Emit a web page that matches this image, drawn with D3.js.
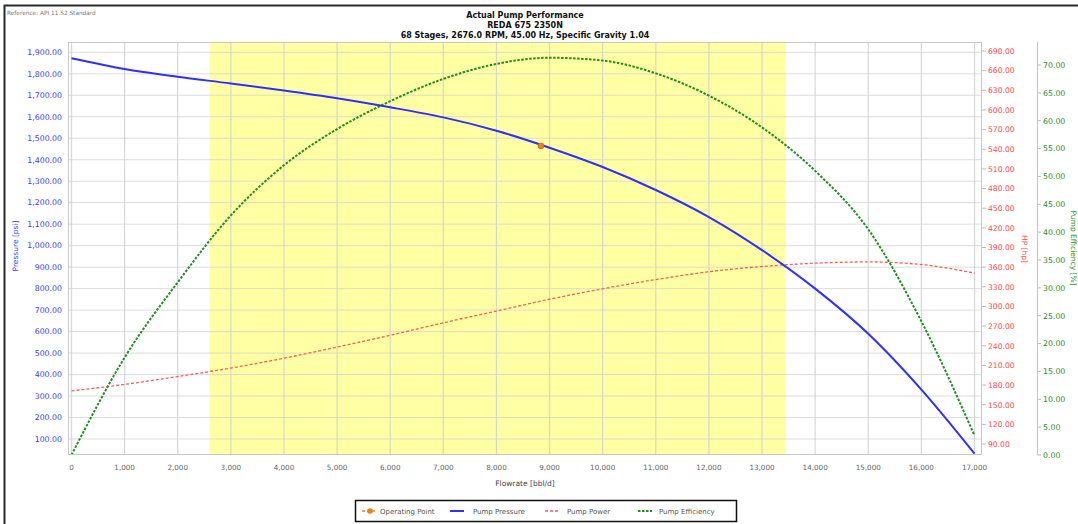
<!DOCTYPE html>
<html><head><meta charset="utf-8">
<script src="https://cdn.jsdelivr.net/npm/d3@7"></script>
<style>
html,body{margin:0;padding:0;background:#fff;}
svg{display:block;font-family:"DejaVu Sans",sans-serif;}
</style></head>
<body>
<svg id="c" width="1078" height="524"></svg>
<script>
// ---- data ----
const flowrate   = [0,1000,2000,3000,4000,5000,6000,7000,8000,9000,10000,11000,12000,13000,14000,15000,16000,17000];
const pressure   = [1872,1822,1786,1755,1722,1686,1644,1597,1535,1456,1366,1259,1133,979,800,590,330,32];
const power      = [171,181,193,206,221,238,256,275,293,311,327,341,353,361,366,368,364,351];
const efficiency = [0,17.5,31,43,52,58.5,63.5,67.5,70.2,71.3,70.8,68.5,64.5,58.8,51,40.5,24,3.5];
const operatingPoint = {flow: 8838, pressure: 1464};
const recommendedRange = [2600, 13450];
const xTicks = d3.range(0, 17001, 1000);
const pressureTicks = d3.range(100, 1901, 100);
const powerTicks = d3.range(90, 691, 30);
const effTicks = d3.range(0, 71, 5);
const titleLines = ["Actual Pump Performance", "REDA 675 2350N", "68 Stages, 2676.0 RPM, 45.00 Hz, Specific Gravity 1.04"];
const legendItems = ["Operating Point", "Pump Pressure", "Pump Power", "Pump Efficiency"];

// ---- layout ----
const svg = d3.select("#c");
const frame = {l: 68, r: 982, t: 42, b: 455};
const x  = d3.scaleLinear().domain([0, 17000]).range([71.5, 974.5]);
const yP = d3.scaleLinear().domain([100, 1900]).range([439, 52.3]);
const yH = d3.scaleLinear().domain([90, 690]).range([444, 51]);
const yE = d3.scaleLinear().domain([0, 70]).range([455, 65]);

const blue = "#3a3aff", red = "#ff4a4a", green = "#1f8f1f";

// outer border
svg.append("path").attr("d", "M4.5,530 L4.5,5.5 L1090,5.5")
  .attr("fill", "none").attr("stroke", "#2a2a2a").attr("stroke-width", 2);

svg.append("text").attr("x", 7).attr("y", 14.5).attr("font-size", 5.8).attr("fill", "#7a7a7a")
  .text("Reference: API 11.S2 Standard");

// titles
svg.selectAll("text.title").data(titleLines).enter().append("text")
  .attr("class", "title").attr("x", 525).attr("y", (d, i) => 18 + i * 10)
  .attr("text-anchor", "middle").attr("font-size", 8).attr("font-weight", "bold").attr("fill", "#111")
  .text(d => d);

// clip
svg.append("clipPath").attr("id", "plotclip").append("rect")
  .attr("x", frame.l).attr("y", frame.t).attr("width", frame.r - frame.l).attr("height", frame.b - frame.t);

const plot = svg.append("g").attr("clip-path", "url(#plotclip)");

// recommended range band
plot.append("rect")
  .attr("x", x(recommendedRange[0])).attr("y", frame.t)
  .attr("width", x(recommendedRange[1]) - x(recommendedRange[0]))
  .attr("height", frame.b - frame.t).attr("fill", "#ffffa4");

// grid
plot.selectAll("line.hg").data(pressureTicks).enter().append("line")
  .attr("x1", frame.l).attr("x2", frame.r).attr("y1", d => yP(d)).attr("y2", d => yP(d))
  .attr("stroke", "#d4d4d4").attr("stroke-opacity", 0.8).attr("stroke-width", 1);
plot.selectAll("line.vg").data(xTicks).enter().append("line")
  .attr("y1", frame.t).attr("y2", frame.b).attr("x1", d => x(d)).attr("x2", d => x(d))
  .attr("stroke", "#d0d0d0").attr("stroke-opacity", 0.85).attr("stroke-width", 1.2);

// frame
svg.append("rect").attr("x", frame.l + 0.5).attr("y", frame.t + 0.5)
  .attr("width", frame.r - frame.l - 1).attr("height", frame.b - frame.t - 1)
  .attr("fill", "none").attr("stroke", "#c8c8c8").attr("stroke-width", 1);

// curves
const pts = (ys) => flowrate.map((f, i) => [f, ys[i]]);
const curve = d3.curveMonotoneX;
plot.append("path").datum(pts(power))
  .attr("d", d3.line().x(d => x(d[0])).y(d => yH(d[1])).curve(curve))
  .attr("fill", "none").attr("stroke", "#ff5a5a").attr("stroke-width", 1.3).attr("stroke-dasharray", "3,2");
plot.append("path").datum(pts(efficiency))
  .attr("d", d3.line().x(d => x(d[0])).y(d => yE(d[1])).curve(curve))
  .attr("fill", "none").attr("stroke", green).attr("stroke-width", 2).attr("stroke-dasharray", "2.5,1.5");
plot.append("path").datum(pts(pressure))
  .attr("d", d3.line().x(d => x(d[0])).y(d => yP(d[1])).curve(curve))
  .attr("fill", "none").attr("stroke", "#2f2fff").attr("stroke-width", 2);

// operating point
svg.append("circle").attr("cx", x(operatingPoint.flow)).attr("cy", yP(operatingPoint.pressure))
  .attr("r", 3).attr("fill", "#e8801e").attr("stroke", "#c86010").attr("stroke-width", 0.6);

// left axis labels
svg.selectAll("text.yl").data(pressureTicks).enter().append("text")
  .attr("x", 62).attr("y", d => yP(d) + 2.8).attr("text-anchor", "end")
  .attr("font-size", 7.8).attr("fill", blue).text(d => d3.format(",.2f")(d));
svg.append("text").attr("transform", "translate(18,246) rotate(-90)")
  .attr("text-anchor", "middle").attr("font-size", 7.5).attr("fill", blue).text("Pressure [psi]");

// bottom axis
svg.selectAll("text.xl").data(xTicks).enter().append("text")
  .attr("x", d => x(d)).attr("y", 469.5).attr("text-anchor", "middle")
  .attr("font-size", 7.2).attr("fill", "#666").text(d => d3.format(",")(d));
svg.append("text").attr("x", 525).attr("y", 485.5).attr("text-anchor", "middle")
  .attr("font-size", 7.5).attr("fill", "#444").text("Flowrate [bbl/d]");

// right HP axis
svg.selectAll("line.hpt").data(powerTicks).enter().append("line")
  .attr("x1", frame.r).attr("x2", frame.r + 4).attr("y1", d => yH(d)).attr("y2", d => yH(d))
  .attr("stroke", "#bbb");
svg.selectAll("text.hl").data(powerTicks).enter().append("text")
  .attr("x", 988).attr("y", d => yH(d) + 2.8)
  .attr("font-size", 7.6).attr("fill", red).text(d => d3.format(".2f")(d));
svg.append("text").attr("transform", "translate(1022,249) rotate(90)")
  .attr("text-anchor", "middle").attr("font-size", 7.5).attr("fill", red).text("HP [hp]");

// efficiency axis
svg.append("line").attr("x1", 1037.5).attr("x2", 1037.5).attr("y1", frame.t).attr("y2", frame.b)
  .attr("stroke", "#c4c4c4");
svg.selectAll("line.et").data(effTicks).enter().append("line")
  .attr("x1", 1037.5).attr("x2", 1041).attr("y1", d => yE(d)).attr("y2", d => yE(d))
  .attr("stroke", "#bbb");
svg.selectAll("text.el").data(effTicks).enter().append("text")
  .attr("x", 1043).attr("y", d => yE(d) + 2.8)
  .attr("font-size", 7.8).attr("fill", green).text(d => d3.format(".2f")(d));
svg.append("text").attr("transform", "translate(1071,248) rotate(90)")
  .attr("text-anchor", "middle").attr("font-size", 7.5).attr("fill", green).text("Pump Efficiency [%]");

// legend
const lg = svg.append("g");
lg.append("rect").attr("x", 355.5).attr("y", 500.5).attr("width", 381).attr("height", 21)
  .attr("fill", "#fff").attr("stroke", "#111").attr("stroke-width", 1.5);
const ly = 511;
const legX = [362, 450, 545, 638];
const legTextX = [380, 473, 567, 659];
// operating point symbol
lg.append("line").attr("x1", legX[0]).attr("x2", legX[0] + 15).attr("y1", ly).attr("y2", ly)
  .attr("stroke", "#e8801e").attr("stroke-width", 1.5).attr("stroke-dasharray", "3,2");
lg.append("circle").attr("cx", legX[0] + 8).attr("cy", ly).attr("r", 2.8).attr("fill", "#e8801e");
lg.append("line").attr("x1", legX[1]).attr("x2", legX[1] + 14).attr("y1", ly).attr("y2", ly)
  .attr("stroke", "#2f2fff").attr("stroke-width", 2);
lg.append("line").attr("x1", legX[2]).attr("x2", legX[2] + 14).attr("y1", ly).attr("y2", ly)
  .attr("stroke", "#ff5a5a").attr("stroke-width", 1.3).attr("stroke-dasharray", "3,2");
lg.append("line").attr("x1", legX[3]).attr("x2", legX[3] + 14).attr("y1", ly).attr("y2", ly)
  .attr("stroke", green).attr("stroke-width", 2).attr("stroke-dasharray", "2.5,1.5");
lg.selectAll("text.lt").data(legendItems).enter().append("text")
  .attr("x", (d, i) => legTextX[i]).attr("y", ly + 2.6)
  .attr("font-size", 7).attr("fill", "#555").text(d => d);
</script>
</body></html>
